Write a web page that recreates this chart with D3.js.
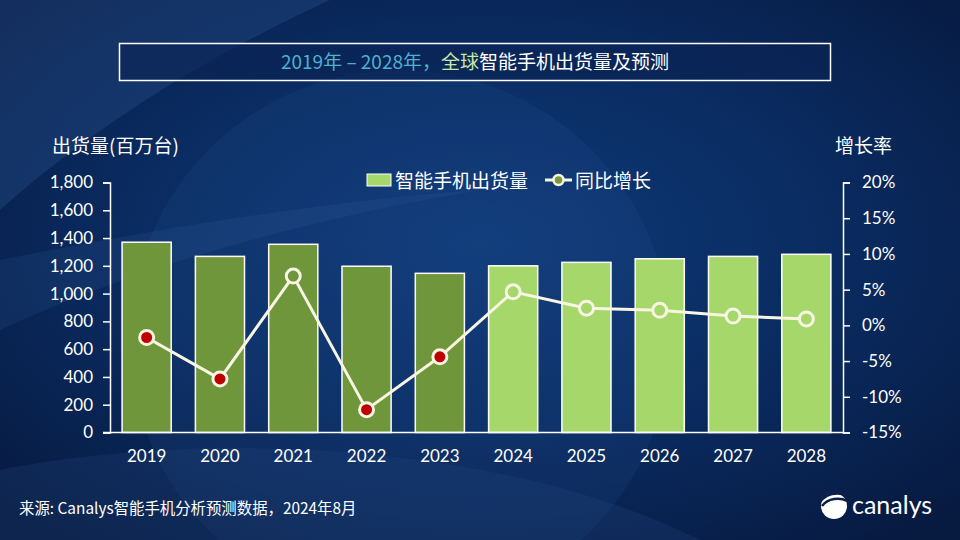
<!DOCTYPE html>
<html><head><meta charset="utf-8">
<script src="https://cdn.jsdelivr.net/npm/d3@7"></script>
<style>body{margin:0;background:#0b2050}svg{display:block}</style>
</head><body><svg id="c" width="960" height="540"></svg>
<script>
const years = ["2019","2020","2021","2022","2023","2024","2025","2026","2027","2028"];
const shipments = [1370, 1268, 1355, 1197, 1146, 1200, 1225, 1251, 1268, 1283];
const growth = [-1.7, -7.5, 6.9, -11.8, -4.4, 4.7, 2.4, 2.1, 1.3, 0.9];
const isForecast = [false,false,false,false,false,true,true,true,true,true];
const leftTicks = [0,200,400,600,800,1000,1200,1400,1600,1800];
const rightTicks = [-15,-10,-5,0,5,10,15,20];

const svg = d3.select("#c");
const defs = svg.append("defs");
const bg = defs.append("radialGradient").attr("id","bg").attr("cx","50%").attr("cy","45%").attr("r","70%");
bg.append("stop").attr("offset","0%").attr("stop-color","#0f3a78");
bg.append("stop").attr("offset","50%").attr("stop-color","#0a2c62");
bg.append("stop").attr("offset","100%").attr("stop-color","#071a40");
svg.append("rect").attr("width",960).attr("height",540).attr("fill","url(#bg)");
// decorative arcs
svg.append("path").attr("d","M0,0 L330,0 C200,60 90,130 0,210 Z").attr("fill","#2a5290").attr("opacity",0.35);
svg.append("path").attr("d","M0,260 C150,230 330,200 480,190 C330,215 150,260 0,330 Z").attr("fill","#3a6aa8").attr("opacity",0.15);
svg.append("circle").attr("cx",400).attr("cy",340).attr("r",270).attr("fill","#3a6ab0").attr("opacity",0.10);
svg.append("path").attr("d","M0,540 L0,470 C200,430 500,440 700,540 Z").attr("fill","#23477f").attr("opacity",0.25);

const font = "Lato, 'Noto Sans CJK SC', sans-serif";
const cjk = "'Noto Sans CJK SC', Lato, sans-serif";

// title box
svg.append("rect").attr("x",119.5).attr("y",43.5).attr("width",711).attr("height",37)
  .attr("fill","#0a2354").attr("fill-opacity",0.6).attr("stroke","#ffffff").attr("stroke-width",1.5);
const tt = svg.append("text").attr("x",475).attr("y",69).attr("text-anchor","middle")
  .attr("font-family",cjk).attr("font-size",19);
tt.append("tspan").attr("fill","#4fb0d0").text("2019年 – 2028年，");
tt.append("tspan").attr("fill","#c6e8a0").text("全球");
tt.append("tspan").attr("fill","#ffffff").text("智能手机出货量及预测");

const L = 110, R = 843, T = 182.5, B = 432.5;
const x = d3.scaleBand().domain(years).range([L,R]).paddingInner(0.33).paddingOuter(0.165);
const y = d3.scaleLinear().domain([0,1800]).range([B,T]);
const y2 = d3.scaleLinear().domain([-15,20]).range([B,T]);

const dark = "#6f963b", light = "#a5d76a";

// bars
svg.append("g").selectAll("rect").data(years).join("rect")
  .attr("x",d=>x(d)).attr("width",x.bandwidth())
  .attr("y",(d,i)=>y(shipments[i])).attr("height",(d,i)=>B-y(shipments[i]))
  .attr("fill",(d,i)=>isForecast[i]?light:dark).attr("stroke","#ffffff").attr("stroke-width",1.5);

// axes
const ax = svg.append("g").attr("transform",`translate(${L},0)`)
  .call(d3.axisLeft(y).tickValues(leftTicks).tickFormat(d3.format(",")).tickSize(7).tickPadding(10));
const ax2 = svg.append("g").attr("transform",`translate(${R},0)`)
  .call(d3.axisRight(y2).tickValues(rightTicks).tickFormat(d=>d+"%").tickSize(7).tickPadding(12));
const axb = svg.append("g").attr("transform",`translate(0,${B})`)
  .call(d3.axisBottom(x).tickSize(0).tickPadding(17));
[ax,ax2,axb].forEach(g=>{
  g.selectAll("path.domain").attr("stroke","#ffffff").attr("stroke-width",1.5);
  g.selectAll(".tick line").attr("stroke","#ffffff").attr("stroke-width",1.5);
  g.selectAll("text").attr("fill","#ffffff").attr("font-family",font).attr("font-size",17);
});
axb.select("path.domain").attr("d",`M${L-7},0H${R}`);

// line
const cream = "#f8f6e2";
const line = d3.line().x((d,i)=>x(years[i])+x.bandwidth()/2).y(d=>y2(d));
svg.append("path").datum(growth).attr("d",line).attr("fill","none").attr("stroke",cream).attr("stroke-width",3);
svg.append("g").selectAll("circle").data(growth).join("circle")
  .attr("cx",(d,i)=>x(years[i])+x.bandwidth()/2).attr("cy",d=>y2(d)).attr("r",7)
  .attr("fill",(d,i)=>d<0?"#c00000":(isForecast[i]?light:dark))
  .attr("stroke",cream).attr("stroke-width",3);

// axis titles
svg.append("text").attr("x",52).attr("y",153).attr("fill","#fff").attr("font-family",cjk).attr("font-size",19).text("出货量(百万台)");
svg.append("text").attr("x",835).attr("y",153).attr("fill","#fff").attr("font-family",cjk).attr("font-size",19).text("增长率");

// legend
svg.append("rect").attr("x",367).attr("y",174).attr("width",24).attr("height",12).attr("fill",light).attr("stroke","#fff").attr("stroke-width",1);
svg.append("text").attr("x",395).attr("y",187.5).attr("fill","#fff").attr("font-family",cjk).attr("font-size",19).text("智能手机出货量");
svg.append("line").attr("x1",545).attr("x2",572).attr("y1",180).attr("y2",180).attr("stroke",cream).attr("stroke-width",3);
svg.append("circle").attr("cx",558.5).attr("cy",180).attr("r",5).attr("fill","#7a9a3a").attr("stroke",cream).attr("stroke-width",2.5);
svg.append("text").attr("x",575).attr("y",187.5).attr("fill","#fff").attr("font-family",cjk).attr("font-size",19).text("同比增长");

// footer
svg.append("text").attr("x",19).attr("y",514).attr("fill","#fff").attr("font-family",cjk).attr("font-size",15.4).text("来源: Canalys智能手机分析预测数据，2024年8月");

// logo
const lg = svg.append("g").attr("transform","translate(834,506)");
lg.append("circle").attr("r",13).attr("fill","#fff");
lg.append("path").attr("d","M-14,-2 C-8,-12 6,-14 14,-8 L14,-16 L-14,-16 Z").attr("fill","#0b1f4a");
lg.append("path").attr("d","M-12,0 C-6,-8 6,-9 13,-5").attr("fill","none").attr("stroke","#0b1f4a").attr("stroke-width",2.5);
svg.append("text").attr("x",852).attr("y",514).attr("fill","#fff").attr("font-family",font).attr("font-size",25).text("canalys");
</script></body></html>
